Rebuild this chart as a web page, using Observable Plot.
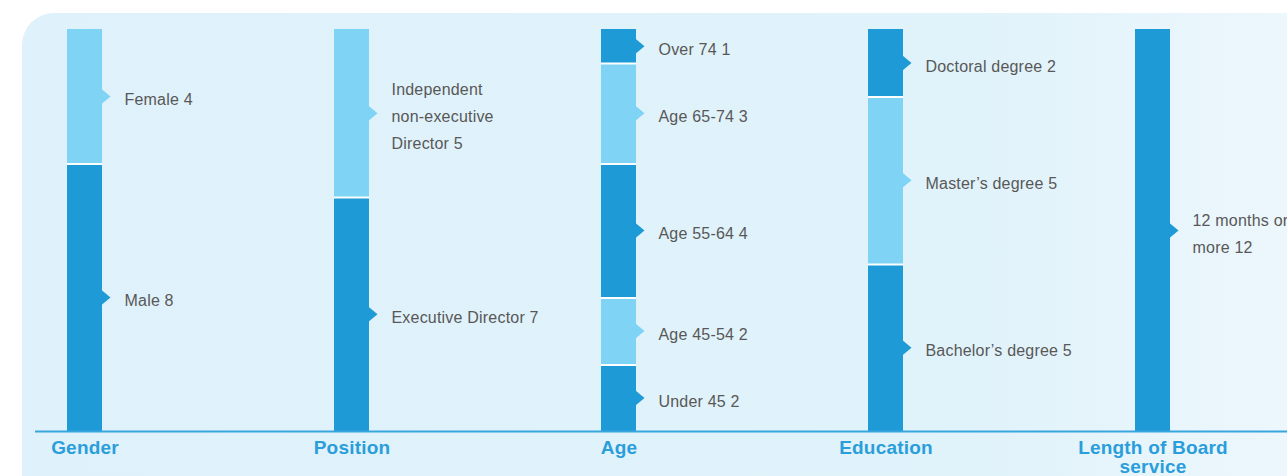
<!DOCTYPE html>
<html><head><meta charset="utf-8">
<script src="https://cdn.jsdelivr.net/npm/d3@7"></script>
<script src="https://cdn.jsdelivr.net/npm/@observablehq/plot@0.6"></script>
<style>
html,body{margin:0;padding:0;background:#fff;overflow:hidden;}
#wrap{position:relative;width:1287px;height:476px;overflow:hidden;}
#bg{position:absolute;left:22px;top:13px;width:1320px;height:520px;border-radius:32px;
  background:linear-gradient(to right,#dff1fa 0%,#e0f2fa 72%,#eff8fd 100%);}
#chart{position:absolute;left:0;top:0;}
#chart text{letter-spacing:0.2px;}
</style></head><body>
<div id="wrap"><div id="bg"></div><div id="chart"></div></div>
<script>
// Categories (x axis)
const categories = ["Gender", "Position", "Age", "Education", "Length of Board\nservice"];

// Segments listed bottom-to-top for each category
const genderLabels = ["Male", "Female"];
const genderValues = [8, 4];

const positionLabels = ["Executive Director", "Independent\nnon-executive\nDirector"];
const positionValues = [7, 5];

const ageLabels = ["Under 45", "Age 45-54", "Age 55-64", "Age 65-74", "Over 74"];
const ageValues = [2, 2, 4, 3, 1];

const educationLabels = ["Bachelor\u2019s degree", "Master\u2019s degree", "Doctoral degree"];
const educationValues = [5, 5, 2];

const serviceLabels = ["12 months or\nmore"];
const serviceValues = [12];

const DARK = "#1e9ad6", LIGHT = "#7fd3f5", BLUE = "#2a9edb", TEXT = "#585858";

const groups = [
  [categories[0], genderLabels, genderValues],
  [categories[1], positionLabels, positionValues],
  [categories[2], ageLabels, ageValues],
  [categories[3], educationLabels, educationValues],
  [categories[4], serviceLabels, serviceValues]
];

const rows = groups.flatMap(([category, labels, values]) => {
  const total = d3.sum(values);
  let c = 0;
  return labels.map((l, i) => {
    const y1 = c; c += values[i];
    return {category, label: `${l} ${values[i]}`, y1, y2: c, ymid: (y1 + c) / 2,
            tone: i % 2 === 0 ? DARK : LIGHT, top: c === total};
  });
});
const totals = groups.map(([category, , values]) => ({category, total: d3.sum(values)}));

const notch = {draw(ctx) { ctx.moveTo(-1, -7.5); ctx.lineTo(8, 0); ctx.lineTo(-1, 7.5); ctx.closePath(); }};

const chart = Plot.plot({
  width: 1287, height: 476,
  marginTop: 29, marginBottom: 45, marginLeft: 66, marginRight: 116,
  x: {domain: categories, paddingInner: 1 - 35 / 267.5, paddingOuter: 0, axis: null},
  y: {domain: [0, 12], axis: null},
  color: {type: "identity"},
  style: {background: "transparent", fontFamily: "'Liberation Sans', Arial, sans-serif", overflow: "visible"},
  marks: [
    Plot.barY(totals, {x: "category", y1: 0, y2: "total", fill: "white"}),
    Plot.barY(rows.filter(d => !d.top), {x: "category", y1: "y1", y2: "y2", fill: "tone", insetTop: 2}),
    Plot.barY(rows.filter(d => d.top), {x: "category", y1: "y1", y2: "y2", fill: "tone"}),
    Plot.dot(rows, {x: "category", y: "ymid", symbol: notch, fill: "tone", dx: 17.5, r: 5}),
    Plot.text(rows, {x: "category", y: "ymid", text: "label", textAnchor: "start", dx: 39.5,
      fontSize: 16, fill: TEXT, lineHeight: 1.69, lineAnchor: "middle"}),
    Plot.ruleY([0], {stroke: "#39a5dd", strokeWidth: 2, insetLeft: -31, insetRight: -116}),
    Plot.text(categories, {x: d => d, text: d => d, frameAnchor: "bottom", lineAnchor: "top", dy: 9,
      fontSize: 19, fontWeight: "bold", fill: BLUE, lineHeight: 1.0})
  ]
});
document.getElementById("chart").appendChild(chart);
</script>
</body></html>
